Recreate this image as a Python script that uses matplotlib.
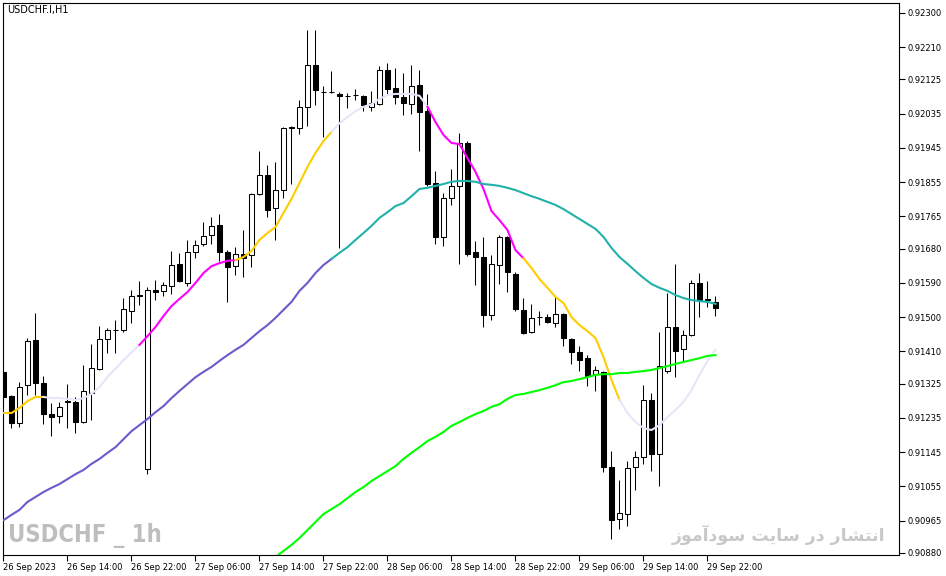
import unicodedata

import numpy as np
import pandas as pd
import matplotlib

matplotlib.use("Agg")
import matplotlib.pyplot as plt

# H1 bars, 26 Sep 2023 06:00 .. 29 Sep 2023 23:00
times = pd.date_range("2023-09-26 06:00", periods=90, freq="h")

# prices in points (1 point = 0.00001)
open_pts = [
    91356, 91292, 91221, 91321, 91440, 91327, 91245, 91240, 91279, 91277,
    91224, 91300, 91364, 91442, 91466, 91466, 91516, 91556, 91101, 91571,
    91568, 91581, 91640, 91590, 91671, 91692, 91716, 91742, 91671, 91634,
    91666, 91663, 91824, 91874, 91787, 91834, 91997, 91997, 92053, 92163,
    92092, 92092, 92087, 92082, 92084, 92082, 92053, 92061, 92150, 92103,
    92079, 92061, 92111, 92042, 91853, 91711, 91813, 91845, 91958, 91671,
    91658, 91506, 91637, 91711, 91613, 91519, 91461, 91499, 91500, 91485,
    91508, 91442, 91408, 91392, 91350, 91356, 91106, 90969, 90982, 91106,
    91132, 91282, 91140, 91358, 91474, 91416, 91453, 91590, 91548, 91540,
]
high_pts = [
    91364, 91295, 91329, 91445, 91511, 91345, 91274, 91277, 91324, 91290,
    91374, 91429, 91477, 91471, 91492, 91550, 91571, 91595, 91579, 91597,
    91592, 91674, 91669, 91703, 91703, 91750, 91763, 91771, 91676, 91684,
    91729, 91826, 91937, 91900, 91908, 92000, 92003, 92071, 92255, 92255,
    92108, 92147, 92092, 92089, 92100, 92083, 92095, 92160, 92168, 92155,
    92142, 92163, 92150, 92087, 91884, 91826, 91890, 91984, 91963, 91700,
    91711, 91663, 91716, 91713, 91619, 91550, 91534, 91516, 91508, 91556,
    91511, 91445, 91424, 91400, 91371, 91359, 91148, 91072, 91122, 91148,
    91322, 91300, 91461, 91563, 91640, 91466, 91598, 91616, 91595, 91556,
]
low_pts = [
    91290, 91208, 91211, 91295, 91295, 91219, 91187, 91221, 91208, 91195,
    91222, 91229, 91361, 91406, 91406, 91461, 91485, 91532, 91087, 91545,
    91556, 91561, 91592, 91581, 91655, 91687, 91692, 91647, 91540, 91610,
    91605, 91632, 91822, 91763, 91703, 91813, 91850, 91982, 92003, 92058,
    91974, 92089, 91682, 92050, 92071, 92042, 92042, 92058, 92087, 92061,
    92032, 92034, 91937, 91845, 91692, 91687, 91795, 91640, 91661, 91585,
    91474, 91492, 91587, 91566, 91516, 91456, 91458, 91479, 91485, 91474,
    91424, 91377, 91359, 91319, 91305, 91093, 90917, 90943, 90951, 91046,
    91114, 91095, 91056, 91353, 91343, 91385, 91450, 91500, 91527, 91503,
]
close_pts = [
    91290, 91221, 91316, 91437, 91327, 91245, 91237, 91264, 91278, 91224,
    91306, 91366, 91442, 91466, 91465, 91521, 91556, 91557, 91571, 91566,
    91584, 91637, 91595, 91671, 91690, 91713, 91740, 91671, 91632, 91666,
    91655, 91824, 91874, 91782, 91834, 91997, 92000, 92053, 92163, 92097,
    92093, 92091, 92082, 92081, 92085, 92058, 92063, 92150, 92100, 92079,
    92063, 92108, 92040, 91850, 91711, 91813, 91845, 91958, 91666, 91658,
    91506, 91640, 91711, 91619, 91521, 91458, 91498, 91500, 91487, 91508,
    91445, 91408, 91387, 91345, 91361, 91106, 90966, 90985, 91104, 91132,
    91282, 91140, 91372, 91474, 91411, 91453, 91590, 91545, 91545, 91524,
]

# fast moving average (colour changes every segment)
fast_ma_pts = [
    91248, 91248, 91261, 91279, 91290, 91290, 91287, 91287, 91285, 91282,
    91287, 91298, 91316, 91343, 91364, 91387, 91408, 91427, 91450, 91474,
    91503, 91529, 91548, 91566, 91590, 91616, 91634, 91642, 91648, 91650,
    91658, 91674, 91703, 91721, 91737, 91774, 91811, 91853, 91895, 91932,
    91963, 91987, 92010, 92026, 92042, 92053, 92060, 92074, 92084, 92087,
    92087, 92087, 92082, 92053, 92013, 91979, 91958, 91955, 91918, 91882,
    91837, 91779, 91755, 91729, 91676, 91655, 91629, 91600, 91577, 91553,
    91537, 91500, 91479, 91463, 91445, 91395, 91335, 91282, 91248, 91224,
    91208, 91203, 91216, 91237, 91256, 91277, 91308, 91348, 91385, 91414,
]
fast_breaks = [0, 5, 17, 29, 41, 53, 65, 77, 89]
fast_colors = ["#FFCC00", "#E6E6FA", "#FF00FF", "#FFCC00",
               "#E6E6FA", "#FF00FF", "#FFCC00", "#E6E6FA"]

# medium moving average
mid_ma_pts = [
    90966, 90980, 90993, 91014, 91027, 91040, 91051, 91061, 91074, 91087,
    91098, 91114, 91127, 91143, 91158, 91179, 91200, 91216, 91232, 91250,
    91266, 91287, 91306, 91324, 91342, 91356, 91369, 91385, 91400, 91414,
    91427, 91445, 91463, 91479, 91498, 91519, 91540, 91569, 91590, 91616,
    91637, 91653, 91669, 91684, 91703, 91721, 91740, 91761, 91776, 91792,
    91800, 91818, 91837, 91840, 91845, 91850, 91856, 91858, 91858, 91856,
    91850, 91848, 91845, 91840, 91834, 91826, 91818, 91811, 91803, 91795,
    91784, 91771, 91758, 91745, 91732, 91711, 91682, 91658, 91640, 91621,
    91603, 91587, 91577, 91569, 91558, 91550, 91545, 91542, 91540, 91535,
]
mid_break = 41
mid_colors = ["#6A5ACD", "#20B2AA"]

# slow moving average, visible from bar 34
slow_start = 34
slow_ma_pts = [
    90869, 90885, 90901, 90919, 90940, 90961, 90982, 90995, 91008, 91024,
    91040, 91053, 91069, 91082, 91095, 91108, 91127, 91143, 91158, 91174,
    91185, 91198, 91214, 91224, 91235, 91245, 91253, 91264, 91271, 91285,
    91295, 91298, 91303, 91308, 91314, 91321, 91329, 91332, 91337, 91342,
    91348, 91350, 91350, 91353, 91353, 91356, 91358, 91361, 91366, 91371,
    91377, 91382, 91387, 91392, 91398, 91400,
]

ytick_vals = [0.92300, 0.92210, 0.92125, 0.92035, 0.91945, 0.91855, 0.91765,
              0.91680, 0.91590, 0.91500, 0.91410, 0.91325, 0.91235, 0.91145,
              0.91055, 0.90965, 0.90880]
xtick_step = 8

title = "USDCHF.I,H1"
mark_en = "USDCHF _ 1h"
mark_fa = "انتشار در سایت سودآموز"

# ---- simple Persian shaping (matplotlib has no joining / RTL support)
FORMS = {  # isolated, final, initial, medial
    "\u0627": ("\uFE8D", "\uFE8E", None, None),
    "\u0622": ("\uFE81", "\uFE82", None, None),
    "\u0646": ("\uFEE5", "\uFEE6", "\uFEE7", "\uFEE8"),
    "\u062A": ("\uFE95", "\uFE96", "\uFE97", "\uFE98"),
    "\u0634": ("\uFEB5", "\uFEB6", "\uFEB7", "\uFEB8"),
    "\u0631": ("\uFEAD", "\uFEAE", None, None),
    "\u062F": ("\uFEA9", "\uFEAA", None, None),
    "\u0633": ("\uFEB1", "\uFEB2", "\uFEB3", "\uFEB4"),
    "\u06CC": ("\uFBFC", "\uFBFD", "\uFBFE", "\uFBFF"),
    "\u0648": ("\uFEED", "\uFEEE", None, None),
    "\u0645": ("\uFEE1", "\uFEE2", "\uFEE3", "\uFEE4"),
    "\u0632": ("\uFEAF", "\uFEB0", None, None),
}


def shape_fa(text):
    text = unicodedata.normalize("NFC", text)
    words = []
    for word in text.split(" "):
        out = []
        for k, ch in enumerate(word):
            f = FORMS.get(ch)
            if f is None:
                out.append(ch)
                continue
            prev_j = k > 0 and FORMS.get(word[k - 1], (0, 0, None))[2] is not None
            next_j = k < len(word) - 1 and f[2] is not None
            if prev_j and next_j:
                out.append(f[3])
            elif prev_j:
                out.append(f[1])
            elif next_j:
                out.append(f[2])
            else:
                out.append(f[0])
        words.append("".join(out))
    return " ".join(words)[::-1]


opens = np.array(open_pts) / 1e5
highs = np.array(high_pts) / 1e5
lows = np.array(low_pts) / 1e5
closes = np.array(close_pts) / 1e5
fast_ma = np.array(fast_ma_pts) / 1e5
mid_ma = np.array(mid_ma_pts) / 1e5
slow_ma = np.array(slow_ma_pts) / 1e5
x = np.arange(len(opens))

W, H = 946, 576
fig = plt.figure(figsize=(W / 100, H / 100), dpi=100)
fig.patch.set_facecolor("white")
ax = fig.add_axes([3 / W, 1 - 555 / H, 896 / W, 552 / H])
ax.set_xlim(-0.0625, 111.94)
ax.set_ylim(0.9087435, 0.923261)

# candles
ax.vlines(x, lows, highs, color="black", linewidth=0.75, zorder=2)
up = closes >= opens
bottom = np.minimum(opens, closes)
height = np.maximum(np.abs(closes - opens), 1e-7)
ax.bar(x[up], height[up], bottom=bottom[up], width=0.62, facecolor="white",
       edgecolor="black", linewidth=0.75, zorder=3)
ax.bar(x[~up], height[~up], bottom=bottom[~up], width=0.62, facecolor="black",
       edgecolor="black", linewidth=0.75, zorder=3)

# moving averages
for i, col in enumerate(fast_colors):
    a, b = fast_breaks[i], fast_breaks[i + 1]
    ax.plot(x[a:b + 1], fast_ma[a:b + 1], color=col, linewidth=1.5, zorder=4)
ax.plot(x[:mid_break + 1], mid_ma[:mid_break + 1], color=mid_colors[0],
        linewidth=1.5, zorder=4)
ax.plot(x[mid_break:], mid_ma[mid_break:], color=mid_colors[1],
        linewidth=1.5, zorder=4)
ax.plot(x[slow_start:], slow_ma, color="#00FF00", linewidth=1.5, zorder=4)

# axes
for s in ax.spines.values():
    s.set_linewidth(0.8)
    s.set_color("black")
ax.yaxis.tick_right()
ax.set_yticks(ytick_vals)
ax.set_yticklabels([f"{v:.5f}" for v in ytick_vals])
xt = list(range(0, len(times), xtick_step))
xl = [times[0].strftime("%d %b %Y")] + [times[i].strftime("%d %b %H:%M") for i in xt[1:]]
ax.set_xticks(xt)
ax.set_xticklabels(xl)
for lbl in ax.get_xticklabels():
    lbl.set_horizontalalignment("left")
ax.tick_params(axis="both", direction="out", length=4, width=0.8, pad=2,
               labelsize=6, colors="black")

# texts
fig.text(7 / W, 1 - 10 / H, title, fontsize=7, ha="left", va="center")
fig.text(8 / W, 1 - 536 / H, mark_en, fontsize=17, fontweight="bold",
         fontstretch="condensed", color="#BEBEBE", ha="left", va="center",
         family=["DejaVu Sans"])
fig.text(885 / W, 1 - 535 / H, shape_fa(mark_fa), fontsize=12.5,
         fontweight="bold", color="#C8C8C8", ha="right", va="center",
         family=["DejaVu Sans"])

fig.savefig("out.png", dpi=100)
